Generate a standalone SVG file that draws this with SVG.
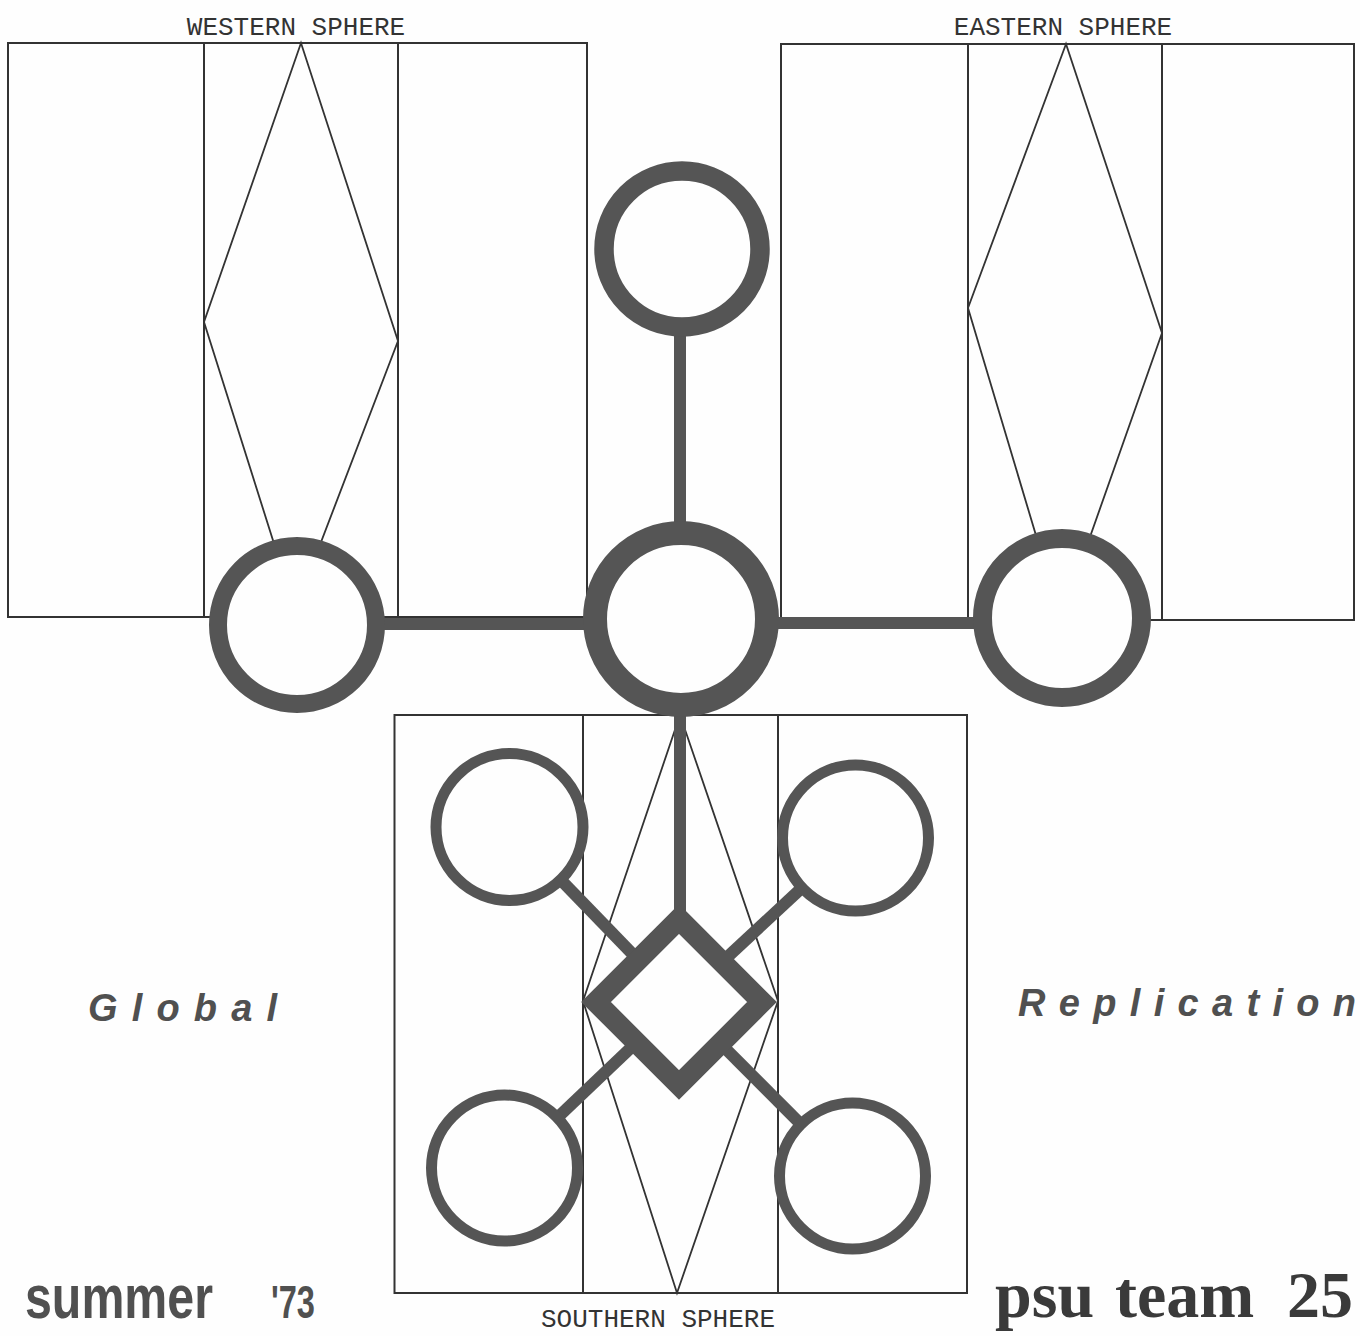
<svg xmlns="http://www.w3.org/2000/svg" width="1360" height="1336" viewBox="0 0 1360 1336">
<style>
.bg{fill:#fefefe}
.thin{fill:none;stroke:#333;stroke-width:2}
.thinfill{fill:none;stroke:#333;stroke-width:1.8;stroke-linejoin:miter}
.ring{fill:#fefefe;stroke:#555}
.bar{stroke:#555;stroke-linecap:butt;fill:none}
.mono{font-family:"Liberation Mono","DejaVu Sans Mono",monospace;font-size:26px;fill:#333;text-anchor:middle}
.ital{font-family:"Liberation Sans",Arial,sans-serif;font-weight:bold;font-style:italic;fill:#505050}
.cond{font-family:"Liberation Sans",Arial,sans-serif;font-weight:bold;fill:#505050}
.serif{font-family:"Liberation Serif","Times New Roman",serif;font-weight:bold;fill:#3a3a3a}
</style>
<rect class="bg" x="0" y="0" width="1360" height="1336"/>

<g id="western-sphere">
  <rect class="thin" x="8" y="43" width="579" height="574"/>
  <line class="thin" x1="204" y1="43" x2="204" y2="617"/>
  <line class="thin" x1="398" y1="43" x2="398" y2="624"/>
  <polygon class="thinfill" points="301,43 204,322 295,610 398,341"/>
  <text class="mono" x="296" y="35">WESTERN SPHERE</text>
</g>

<g id="eastern-sphere">
  <rect class="thin" x="781" y="44" width="573" height="576"/>
  <line class="thin" x1="968" y1="44" x2="968" y2="623"/>
  <line class="thin" x1="1162" y1="44" x2="1162" y2="620"/>
  <polygon class="thinfill" points="1066,44 968,308 1061,619 1162,333"/>
  <text class="mono" x="1063" y="35">EASTERN SPHERE</text>
</g>

<g id="southern-sphere">
  <rect class="thin" x="394.5" y="715" width="572.5" height="578"/>
  <line class="thin" x1="583" y1="715" x2="583" y2="1293"/>
  <line class="thin" x1="778" y1="715" x2="778" y2="1293"/>
  <polygon class="thinfill" points="680,715 583,1001 677,1293 778,1001"/>
  <text class="mono" x="658" y="1327">SOUTHERN SPHERE</text>
</g>

<g id="connectors">
  <line class="bar" stroke-width="12" x1="297" y1="624" x2="681" y2="624"/>
  <line class="bar" stroke-width="12" x1="681" y1="623" x2="1062" y2="623"/>
  <line class="bar" stroke-width="12" x1="680" y1="249" x2="680" y2="619"/>
  <line class="bar" stroke-width="12" x1="680" y1="619" x2="680" y2="1002"/>
  <line class="bar" stroke-width="12" x1="509.5" y1="827" x2="679" y2="1002"/>
  <line class="bar" stroke-width="12" x1="855.5" y1="838" x2="679" y2="1002"/>
  <line class="bar" stroke-width="12" x1="504.5" y1="1168" x2="679" y2="1002"/>
  <line class="bar" stroke-width="12" x1="852.5" y1="1176" x2="679" y2="1002"/>
</g>

<g id="node-top"><circle class="ring" cx="682" cy="249" r="78" stroke-width="19.5"/></g>
<g id="node-center"><circle class="ring" cx="681" cy="619" r="86" stroke-width="24"/></g>
<g id="node-west"><circle class="ring" cx="297" cy="625" r="79" stroke-width="18"/></g>
<g id="node-east"><circle class="ring" cx="1062" cy="618" r="79.5" stroke-width="19"/></g>
<g id="node-south-hub"><polygon class="ring" stroke-width="21" stroke-linejoin="miter" points="679,919 762,1002 679,1085 596,1002"/></g>
<g id="node-south-nw"><circle class="ring" cx="509.5" cy="827" r="73.5" stroke-width="11"/></g>
<g id="node-south-ne"><circle class="ring" cx="855.5" cy="838" r="73" stroke-width="11"/></g>
<g id="node-south-sw"><circle class="ring" cx="504.5" cy="1168" r="73" stroke-width="11"/></g>
<g id="node-south-se"><circle class="ring" cx="852.5" cy="1176" r="73" stroke-width="11"/></g>

<g id="titles">
  <text class="ital" x="88" y="1021" font-size="38" textLength="189" lengthAdjust="spacing">Global</text>
  <text class="ital" x="1018" y="1016" font-size="38" textLength="338" lengthAdjust="spacing">Replication</text>
  <text class="cond" x="25" y="1318" font-size="62" textLength="188" lengthAdjust="spacingAndGlyphs">summer</text>
  <text class="cond" x="271" y="1318" font-size="46" textLength="44" lengthAdjust="spacingAndGlyphs">'73</text>
  <text class="serif" y="1317" font-size="66"><tspan x="995">psu </tspan><tspan x="1115">team </tspan><tspan x="1287">25</tspan></text>
</g>
</svg>
